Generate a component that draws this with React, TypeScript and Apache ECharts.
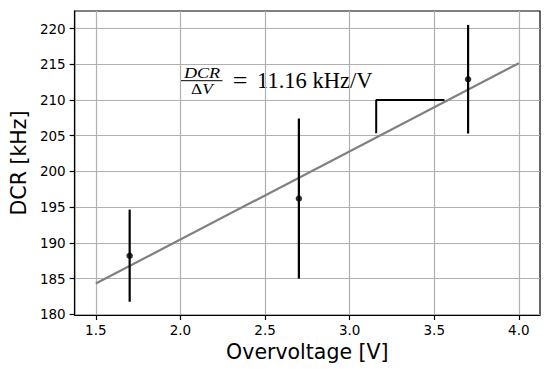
import React, { useEffect, useRef } from "react";
import * as echarts from "echarts";

const voltages = [1.7, 2.7, 3.7];
const dcrValues = [188.2, 196.2, 212.9];
const dcrErrors = [6.45, 11.2, 7.6];

const fitX = [1.5, 4.0];
const fitY = [184.3, 215.15];

const slopeX = [3.157, 3.157, 3.56];
const slopeY = [205.35, 210.0, 210.0];

const xTicks = [1.5, 2.0, 2.5, 3.0, 3.5, 4.0];
const yTicks = [180, 185, 190, 195, 200, 205, 210, 215, 220];

export default function App() {
  const ref = useRef<HTMLDivElement>(null);
  useEffect(() => {
    if (!ref.current) return;
    const chart = echarts.init(ref.current, undefined, { renderer: "svg" });
    const tickFont = { fontFamily: "DejaVu Sans", fontSize: 13.5, color: "#000" };
    const axisCommon = {
      axisLine: { show: true, lineStyle: { color: "#000", width: 1.2 } },
      axisTick: { show: true, length: 5, inside: false, lineStyle: { color: "#000", width: 1.2 } },
      splitLine: { show: true, lineStyle: { color: "#b0b0b0", width: 1.2 } },
    };
    chart.setOption({
      animation: false,
      backgroundColor: "#fff",
      grid: {
        left: 72,
        right: 10,
        top: 11,
        bottom: 54,
        show: true,
        borderColor: "#000",
        borderWidth: 1.2,
        backgroundColor: "transparent",
      },
      xAxis: {
        type: "value",
        min: 1.375,
        max: 4.125,
        ...axisCommon,
        axisTick: { ...axisCommon.axisTick, customValues: xTicks },
        axisLabel: {
          ...tickFont,
          margin: 8,
          customValues: xTicks,
          formatter: (v: number) => v.toFixed(1),
        },
        name: "Overvoltage [V]",
        nameLocation: "middle",
        nameGap: 26,
        nameTextStyle: { fontFamily: "DejaVu Sans", fontSize: 20.5, color: "#000" },
      },
      yAxis: {
        type: "value",
        min: 179.9,
        max: 222.45,
        ...axisCommon,
        axisTick: { ...axisCommon.axisTick, customValues: yTicks },
        axisLabel: {
          ...tickFont,
          margin: 9,
          customValues: yTicks,
          formatter: (v: number) => String(Math.round(v)),
        },
        name: "DCR [kHz]",
        nameLocation: "middle",
        nameRotate: 90,
        nameGap: 44,
        nameTextStyle: { fontFamily: "DejaVu Sans", fontSize: 20.5, color: "#000" },
      },
      series: [
        {
          type: "line",
          data: fitX.map((x, i) => [x, fitY[i]]),
          showSymbol: false,
          lineStyle: { color: "#808080", width: 2.2 },
          z: 2,
        },
        {
          type: "line",
          data: slopeX.map((x, i) => [x, slopeY[i]]),
          showSymbol: false,
          lineStyle: { color: "#000", width: 2 },
          z: 3,
        },
        {
          type: "custom",
          data: voltages.map((x, i) => [x, dcrValues[i], dcrErrors[i]]),
          encode: { x: 0, y: 1 },
          renderItem: (params: any, api: any) => {
            const x = api.value(0);
            const y = api.value(1);
            const e = api.value(2);
            const p1 = api.coord([x, y - e]);
            const p2 = api.coord([x, y + e]);
            return {
              type: "line",
              shape: { x1: p1[0], y1: p1[1], x2: p2[0], y2: p2[1] },
              style: { stroke: "#000", lineWidth: 2.2 },
            };
          },
          z: 4,
        },
        {
          type: "scatter",
          data: voltages.map((x, i) => [x, dcrValues[i]]),
          symbol: "circle",
          symbolSize: 6.5,
          itemStyle: { color: "#000" },
          z: 5,
        },
      ],
      graphic: [
        {
          type: "group",
          children: [
            {
              type: "text",
              x: 202,
              y: 73,
              scaleX: 1.25,
              style: {
                text: "DCR",
                fontFamily: "Liberation Serif",
                fontStyle: "italic",
                fontSize: 14.5,
                fill: "#000",
                align: "center",
                verticalAlign: "middle",
              },
            },
            {
              type: "line",
              shape: { x1: 181, y1: 80.7, x2: 222.5, y2: 80.7 },
              style: { stroke: "#000", lineWidth: 1 },
            },
            {
              type: "text",
              x: 202,
              y: 89,
              scaleX: 1.2,
              style: {
                text: "{a|Δ}{b|V}",
                align: "center",
                verticalAlign: "middle",
                rich: {
                  a: { fontFamily: "Liberation Serif", fontSize: 14.5, fill: "#000" },
                  b: { fontFamily: "Liberation Serif", fontStyle: "italic", fontSize: 14.5, fill: "#000" },
                },
              } as any,
            },
            {
              type: "text",
              x: 240,
              y: 80,
              style: {
                text: "=",
                fontFamily: "Liberation Serif",
                fontSize: 26,
                fill: "#000",
                align: "center",
                verticalAlign: "middle",
              },
            },
            {
              type: "text",
              x: 257,
              y: 80,
              style: {
                text: "11.16 kHz/V",
                fontFamily: "Liberation Serif",
                fontSize: 22.5,
                fill: "#000",
                align: "left",
                verticalAlign: "middle",
              },
            },
          ],
        },
      ],
    });
    return () => chart.dispose();
  }, []);
  return <div ref={ref} style={{ width: 550, height: 369, position: "absolute", left: 0, top: 0 }} />;
}
